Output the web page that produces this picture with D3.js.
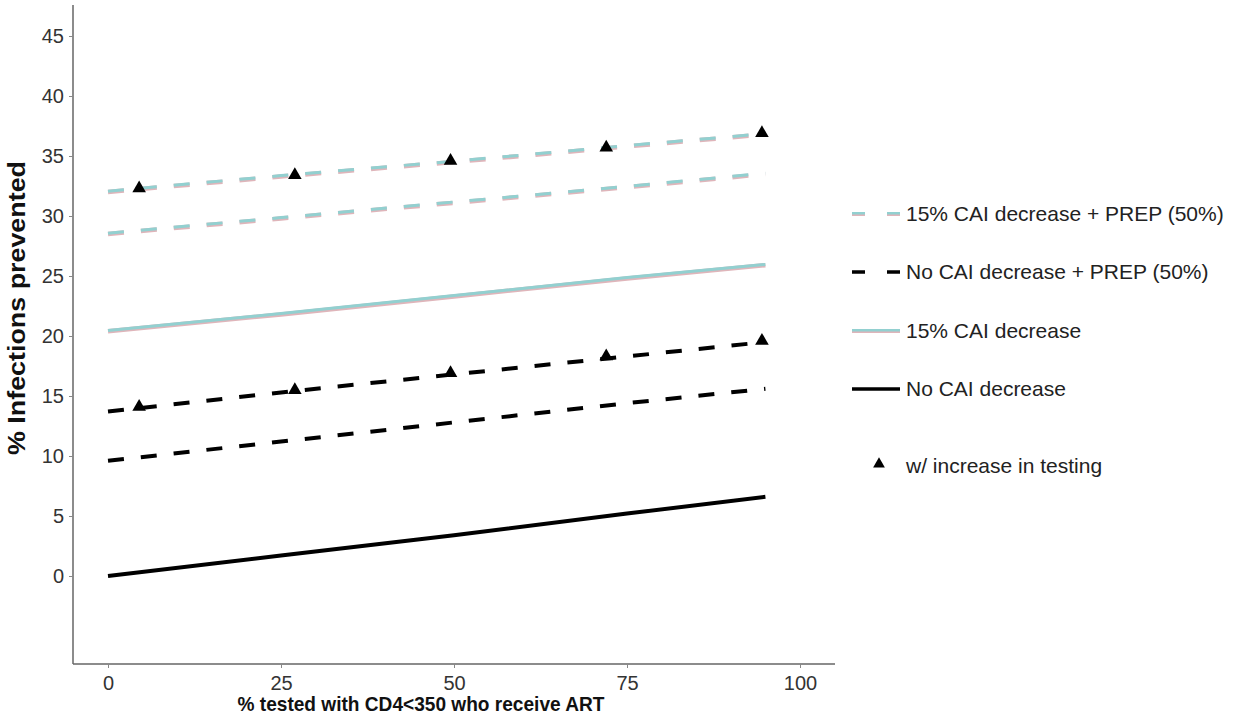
<!DOCTYPE html>
<html>
  <head>
    <title>Infections prevented</title>
    <script src="https://d3js.org/d3.v7.min.js"></script>
    <style>
      body { margin: 0; background: #fff; }
      .tick text { font-family: "Liberation Sans", Arial, sans-serif; font-size: 20px; fill: #333; }
      .axisTitle { font-family: "Liberation Sans", Arial, sans-serif; font-weight: bold; fill: #111; }
      .legend text { font-family: "Liberation Sans", Arial, sans-serif; font-size: 21px; fill: #222; }
    </style>
  </head>
  <body>
    <svg id="chart" width="1234" height="721"></svg>

    <script>
      // x positions of the model runs
      var xVals = [0, 25, 50, 75, 95];

      // series
      var topTealDash = [32.0, 33.3, 34.5, 35.8, 36.8];
      var tealDash = [28.5, 29.8, 31.1, 32.4, 33.5];
      var tealSolid = [20.4, 21.8, 23.3, 24.8, 25.9];
      var topBlackDash = [13.7, 15.3, 16.8, 18.3, 19.5];
      var blackDash = [9.6, 11.2, 12.8, 14.4, 15.6];
      var blackSolid = [0, 1.7, 3.4, 5.2, 6.6];

      // "w/ increase in testing" triangles
      var triX = [4.5, 27, 49.5, 72, 94.5];
      var triTeal = [32.3, 33.4, 34.6, 35.7, 36.9];
      var triBlack = [14.1, 15.5, 16.9, 18.3, 19.6];

      var xTicks = [0, 25, 50, 75, 100];
      var yTicks = [0, 5, 10, 15, 20, 25, 30, 35, 40, 45];

      var legendLabels = [
        "15% CAI decrease + PREP (50%)",
        "No CAI decrease + PREP (50%)",
        "15% CAI decrease",
        "No CAI decrease"
      ];

      var svg = d3.select("#chart");

      var x = d3.scaleLinear().domain([0, 100]).range([108, 800]);
      var y = d3.scaleLinear().domain([0, 45]).range([576, 36]);

      var axisLeftX = 73, axisBottomY = 664;

      // axes
      var xAxis = d3.axisBottom(x).tickValues(xTicks).tickSize(4).tickPadding(8);
      var gx = svg.append("g").attr("transform", "translate(0," + axisBottomY + ")").call(xAxis);
      gx.select(".domain").attr("d", "M" + axisLeftX + ",0H835");

      var yAxis = d3.axisLeft(y).tickValues(yTicks).tickSize(4).tickPadding(5);
      var gy = svg.append("g").attr("transform", "translate(" + axisLeftX + ",0)").call(yAxis);
      gy.select(".domain").attr("d", "M0,5V" + axisBottomY);

      svg.selectAll(".domain").attr("stroke", "#666").attr("stroke-width", 1.5);
      svg.selectAll(".tick line").attr("stroke", "#888");

      svg.append("text").attr("class", "axisTitle")
        .attr("x", 421).attr("y", 711).attr("text-anchor", "middle")
        .style("font-size", "21px")
        .attr("textLength", 367).attr("lengthAdjust", "spacingAndGlyphs")
        .text("% tested with CD4<350 who receive ART");
      svg.append("text").attr("class", "axisTitle")
        .attr("transform", "translate(25,308) rotate(-90)")
        .attr("text-anchor", "middle")
        .style("font-size", "23px")
        .attr("textLength", 294).attr("lengthAdjust", "spacingAndGlyphs")
        .text("% Infections prevented");

      var line = d3.line().x(d => x(d[0])).y(d => y(d[1]));
      function pts(vals) { return xVals.map((v, i) => [v, vals[i]]); }

      function tealPath(vals, dash) {
        svg.append("path").attr("d", line(pts(vals)))
          .attr("fill", "none").attr("stroke", "#dfb5ba").attr("stroke-width", 4.5)
          .attr("stroke-dasharray", dash);
        svg.append("path").attr("d", line(pts(vals)))
          .attr("transform", "translate(0,-0.8)")
          .attr("fill", "none").attr("stroke", "#92d0d0").attr("stroke-width", 3)
          .attr("stroke-dasharray", dash);
      }
      function blackPath(vals, dash) {
        svg.append("path").attr("d", line(pts(vals)))
          .attr("fill", "none").attr("stroke", "#000").attr("stroke-width", 4)
          .attr("stroke-dasharray", dash);
      }

      tealPath(topTealDash, "16,17");
      tealPath(tealDash, "16,17");
      tealPath(tealSolid, null);
      blackPath(topBlackDash, "16,17");
      blackPath(blackDash, "16,17");
      blackPath(blackSolid, null);

      var tri = d3.symbol().type(d3.symbolTriangle).size(80);
      svg.selectAll("path.triT").data(triX.map((v, i) => [v, triTeal[i]]))
        .enter().append("path").attr("class", "triT")
        .attr("d", tri).attr("fill", "#000")
        .attr("transform", d => "translate(" + x(d[0]) + "," + y(d[1]) + ")");
      svg.selectAll("path.triB").data(triX.map((v, i) => [v, triBlack[i]]))
        .enter().append("path").attr("class", "triB")
        .attr("d", tri).attr("fill", "#000")
        .attr("transform", d => "translate(" + x(d[0]) + "," + y(d[1]) + ")");

      // legend
      var lg = svg.append("g").attr("class", "legend");
      var rows = [214, 272, 331, 389];
      var keyStyle = [
        {teal: true, dash: "13,22"},
        {teal: false, dash: "13,22"},
        {teal: true, dash: null},
        {teal: false, dash: null}
      ];
      legendLabels.forEach((lab, i) => {
        var ry = rows[i];
        if (keyStyle[i].teal) {
          lg.append("line").attr("x1", 852).attr("x2", 900).attr("y1", ry).attr("y2", ry)
            .attr("stroke", "#dfb5ba").attr("stroke-width", 4).attr("stroke-dasharray", keyStyle[i].dash);
          lg.append("line").attr("x1", 852).attr("x2", 900).attr("y1", ry - 0.8).attr("y2", ry - 0.8)
            .attr("stroke", "#92d0d0").attr("stroke-width", 2.6).attr("stroke-dasharray", keyStyle[i].dash);
        } else {
          lg.append("line").attr("x1", 852).attr("x2", 900).attr("y1", ry).attr("y2", ry)
            .attr("stroke", "#000").attr("stroke-width", 3.5).attr("stroke-dasharray", keyStyle[i].dash);
        }
        lg.append("text").attr("x", 906).attr("y", ry + 7).text(lab);
      });
      lg.append("path").attr("d", d3.symbol().type(d3.symbolTriangle).size(60))
        .attr("transform", "translate(879,464)").attr("fill", "#000");
      lg.append("text").attr("x", 906).attr("y", 473).text("w/ increase in testing");
    </script>
  </body>
</html>
